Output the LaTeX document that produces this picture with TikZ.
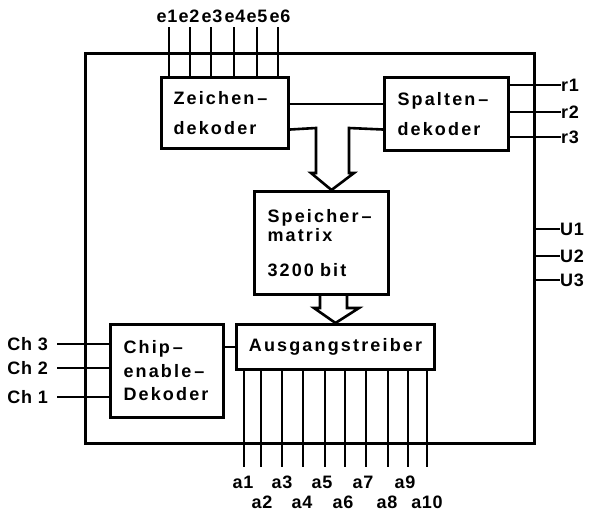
\documentclass[tikz,border=0pt]{standalone}
\usepackage{fontspec}
\setmainfont{Liberation Sans}
\newfontfamily\labf[LetterSpace=12]{Liberation Sans}
\newfontfamily\pinf[LetterSpace=4]{Liberation Sans}
\usetikzlibrary{calc}
\begin{document}
\begin{tikzpicture}[x=1pt,y=-1pt,
  box/.style={draw, line width=3pt, inner sep=0pt, anchor=north west,
    font=\labf\bfseries\fontsize{18}{30}\selectfont, align=left},
  wire/.style={line width=2pt},
  thick wire/.style={line width=2.6pt, line join=miter},
  lbl/.style={font=\pinf\bfseries\fontsize{18}{20}\selectfont, inner sep=0pt}]
\useasboundingbox (0,0) rectangle (591,515);

% outer frame
\node[draw, line width=3pt, anchor=north west, minimum width=449pt, minimum height=390pt, inner sep=0pt] (O) at (84,52) {};

% blocks
\node[box, minimum width=127pt, minimum height=71pt, text width=103pt] (Z) at (160,76) {Zeichen\,–\\dekoder};
\node[box, minimum width=124pt, minimum height=73pt, text width=98pt] (S) at (383,76) {Spalten\,–\\dekoder};
\node[box, minimum width=134pt, minimum height=103pt, text width=108pt,
  font=\labf\bfseries\fontsize{18}{19}\selectfont] (M) at (253,190) {Speicher\,–\\matrix\\[16pt]3200 bit};
\node[box, minimum width=198pt, minimum height=45pt, align=center] (A) at (235,323) {Ausgangstreiber};
\node[box, minimum width=113pt, minimum height=93pt, text width=87pt,
  font=\labf\bfseries\fontsize{18}{23.5}\selectfont] (C) at (109,323) {Chip\,–\\enable\,–\\Dekoder};

% e inputs
\foreach \i/\x/\lx in {1/169/167,2/190/189,3/211/212,4/234/235,5/257/257,6/278/280}{
  \node[lbl] (e\i) at (\lx,16) {e\i};
  \coordinate (et\i) at (\x,27);
  \draw[wire] (et\i) -- (et\i |- Z.north);
}

% r outputs
\foreach \i/\y in {1/85,2/112,3/137}{
  \node[lbl, anchor=west] (r\i) at (561,\y) {r\i};
  \draw[wire] (S.east |- r\i) -- (r\i.west);
}

% U lines
\foreach \i/\y in {1/229,2/256,3/280}{
  \node[lbl, anchor=west] (U\i) at (560,\y) {U\i};
  \draw[wire] (O.east |- U\i) -- (U\i.west);
}

% Ch inputs
\foreach \i/\y in {3/344,2/368,1/397}{
  \node[lbl, anchor=east] (Ch\i) at (48,\y) {Ch \i};
  \draw[wire] ([xshift=9pt]Ch\i.east) -- (Ch\i -| C.west);
}

% chip enable to driver
\draw[wire] (A.west) -- (A.west -| C.east);

% Zeichen - Spalten
\draw[wire] ([yshift=9.5pt]Z.east) -- ([yshift=9.5pt]Z.east -| S.west);

% hollow arrow into memory
\draw[thick wire] ([yshift=-16.5pt]Z.east) -- (316,128) -- (316,173) -- (311,173)
  -- ($(M.north)+(10,0)$) -- (354,173) -- (349,173) -- (349,128)
  -- ($(S.west)+(0,15.5)$);

% hollow arrow into driver
\draw[thick wire] (320,293) -- (320,308) -- (314,308) -- (A.north) -- (359,308) -- (347,308) -- (347,293);

% a outputs
\foreach \i/\x in {1/244,2/261,3/282,4/303,5/325,6/345,7/366,8/388,9/408,10/427}{
  \coordinate (at\i) at (\x,467);
  \draw[wire] (at\i |- A.south) -- (at\i);
}
\foreach \i/\x in {1/243,3/282,5/322,7/363,9/405}{
  \node[lbl] (a\i) at (\x,482) {a\i};
}
\foreach \i/\x in {2/262,4/302,6/343,8/387,10/427}{
  \node[lbl] (a\i) at (\x,502) {a\i};
}
\end{tikzpicture}
\end{document}
